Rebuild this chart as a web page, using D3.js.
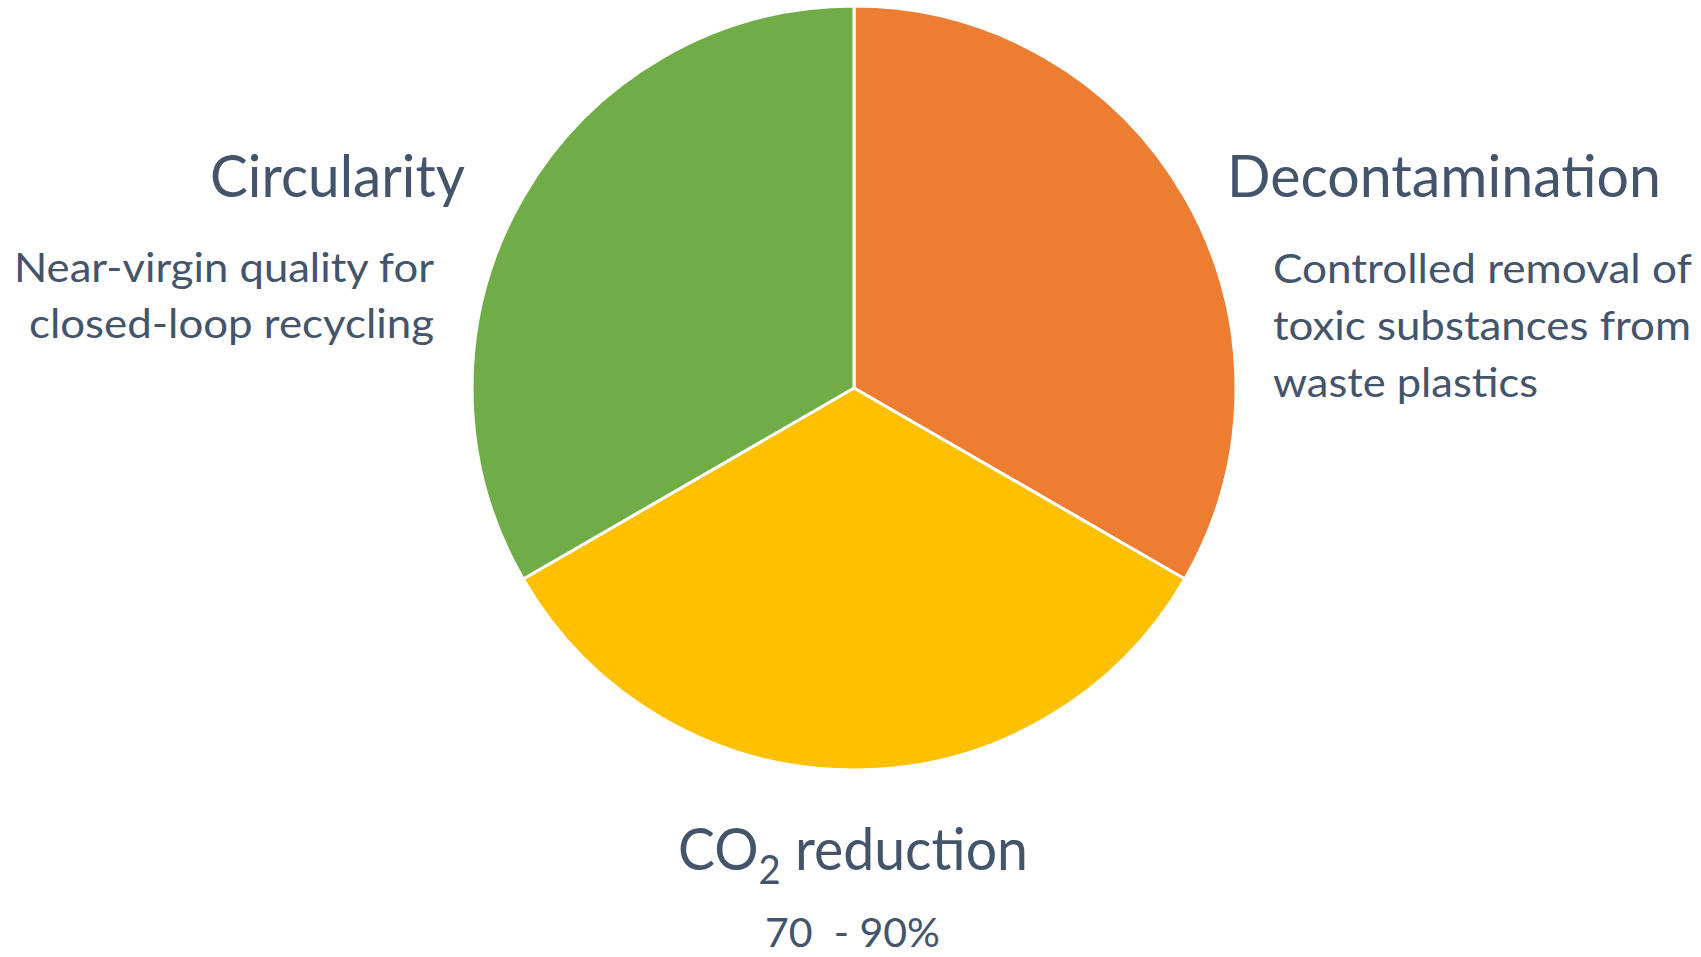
<!DOCTYPE html>
<html><head><meta charset="utf-8">
<script src="https://cdn.jsdelivr.net/npm/d3@7"></script>
<style>
html,body{margin:0;padding:0;background:#fff;}
svg{display:block;}
text{font-family:Lato,"Open Sans",sans-serif;fill:#44546A;}
</style></head>
<body>
<svg id="chart" width="1701" height="957"></svg>
<script>
const categories = ["Decontamination", "CO2 reduction", "Circularity"];
const values = [1, 1, 1];
const colors = ["#ED7D31", "#FFC000", "#70AD47"];
const descriptions = [
  ["Controlled removal of", "toxic substances from", "waste plastics"],
  ["70  - 90%"],
  ["Near-virgin quality for", "closed-loop recycling"]
];

const svg = d3.select("#chart");
const cx = 854, cy = 388, r = 382;

const pie = d3.pie().sort(null).startAngle(0).endAngle(2 * Math.PI);
const arc = d3.arc().innerRadius(0).outerRadius(r);
const g = svg.append("g").attr("transform", `translate(${cx},${cy})`);
g.selectAll("path").data(pie(values)).join("path")
  .attr("d", arc)
  .attr("fill", (d, i) => colors[i])
  .attr("stroke", "#fff")
  .attr("stroke-width", 3)
  .attr("stroke-linejoin", "round");

// Decontamination (right)
svg.append("text").attr("x", 1227).attr("y", 197)
  .attr("font-size", 58).attr("textLength", 434).attr("lengthAdjust", "spacingAndGlyphs")
  .text(categories[0]);
const rightLens = [419, 418, 265];
const rightY = [283, 340, 397];
descriptions[0].forEach((t, i) => {
  svg.append("text").attr("x", 1273).attr("y", rightY[i])
    .attr("font-size", 41).attr("textLength", rightLens[i]).attr("lengthAdjust", "spacingAndGlyphs")
    .text(t);
});

// Circularity (left)
svg.append("text").attr("x", 210).attr("y", 197)
  .attr("font-size", 58).attr("textLength", 255).attr("lengthAdjust", "spacingAndGlyphs")
  .text(categories[2]);
const leftLens = [420, 405];
const leftY = [282, 338];
descriptions[2].forEach((t, i) => {
  svg.append("text").attr("x", 434 - leftLens[i]).attr("y", leftY[i])
    .attr("font-size", 41).attr("textLength", leftLens[i]).attr("lengthAdjust", "spacingAndGlyphs")
    .text(t);
});

// CO2 reduction (bottom)
const co2 = svg.append("text").attr("x", 678).attr("y", 870)
  .attr("font-size", 58).attr("textLength", 350).attr("lengthAdjust", "spacingAndGlyphs");
co2.append("tspan").text("CO");
co2.append("tspan").attr("font-size", 40).attr("dy", 14).text("2");
co2.append("tspan").attr("dy", -14).text(" reduction");

svg.append("text").attr("x", 765).attr("y", 947)
  .attr("font-size", 41).attr("textLength", 175).attr("lengthAdjust", "spacingAndGlyphs")
  .style("white-space", "pre")
  .text(descriptions[1][0]);
</script>
</body></html>
